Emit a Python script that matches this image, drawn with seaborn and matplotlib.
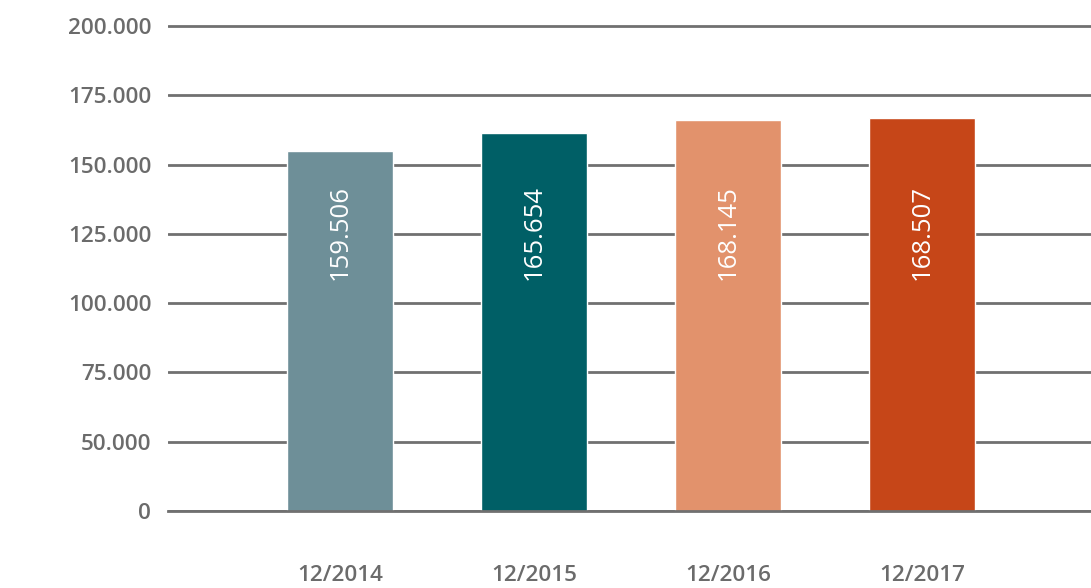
import matplotlib
matplotlib.use("Agg")
import matplotlib.pyplot as plt
import seaborn as sns
import pandas as pd

# data
periods = ["12/2014", "12/2015", "12/2016", "12/2017"]
value_labels = ["159.506", "165.654", "168.145", "168.507"]
bar_heights = [154800, 161300, 166000, 166700]  # drawn heights on the axis scale
colors = ["#6E8F98", "#005F66", "#E2926C", "#C64618"]
tick_positions = [25000, 50000, 75000, 100000, 125000, 150000, 175000, 200000]
tick_labels = ["0", "50.000", "75.000", "100.000", "125.000", "150.000", "175.000", "200.000"]

sns.set_style("white")
plt.rcParams["font.family"] = ["Open Sans", "DejaVu Sans"]

df = pd.DataFrame({"period": periods, "height": bar_heights})

fig = plt.figure(figsize=(10.91, 5.88), dpi=100)
ax = fig.add_axes([168 / 1091, 1 - 511 / 588, 1 - 168 / 1091, 511 / 588])

sns.barplot(data=df, x="period", y="height", hue="period", palette=colors,
            width=0.546, saturation=1, legend=False, ax=ax)

ax.set_xlim(-0.887, 3.871)
ax.set_ylim(25000, 25000 + 511 / 69.3 * 25000)
ax.set_yticks(tick_positions)
ax.set_yticklabels(tick_labels)

grey = "#6B6B6B"
ax.set_axisbelow(True)
ax.yaxis.grid(True, color="#707070", linewidth=2)
ax.xaxis.grid(False)
for side in ["top", "right", "left"]:
    ax.spines[side].set_visible(False)
ax.spines["bottom"].set_color("#707070")
ax.spines["bottom"].set_linewidth(2)

ax.tick_params(axis="y", length=0, pad=12, labelsize=16.2, labelcolor=grey)
ax.tick_params(axis="x", length=0, pad=39, labelsize=16.2, labelcolor=grey)
for lab in ax.get_yticklabels() + ax.get_xticklabels():
    lab.set_fontweight("semibold")
ax.set_xlabel("")
ax.set_ylabel("")

for i, txt in enumerate(value_labels):
    ax.text(i, 108500, txt, rotation=90, ha="center", va="bottom",
            color="white", fontsize=18.5)

fig.savefig("out.png", dpi=100)
